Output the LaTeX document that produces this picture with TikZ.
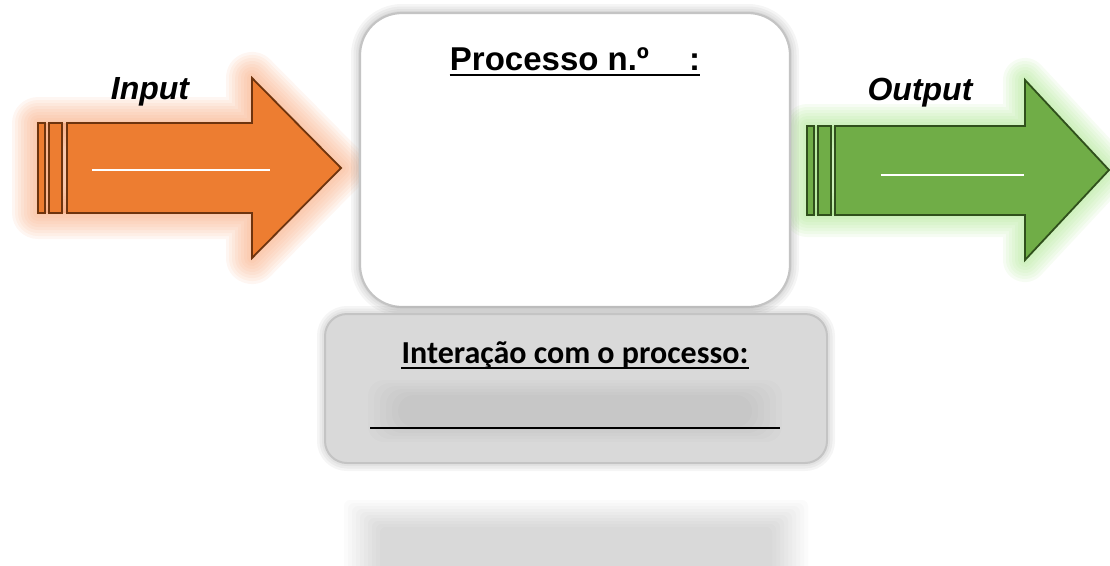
\documentclass[tikz,border=0pt]{standalone}
\usepackage{fontspec}
\setmainfont{Liberation Sans}
\newfontfamily\calibrifont{Carlito}
\usepackage{xcolor}
\usetikzlibrary{calc}

\definecolor{arrOrange}{HTML}{ED7D31}
\definecolor{arrOrangeDk}{HTML}{6E340E}
\definecolor{glowOrange}{HTML}{F7A070}
\definecolor{arrGreen}{HTML}{70AD47}
\definecolor{arrGreenDk}{HTML}{30501C}
\definecolor{glowGreen}{HTML}{9EE27C}
\definecolor{boxGray}{HTML}{D9D9D9}
\definecolor{rimGray}{HTML}{C4C4C4}

\begin{document}
\begin{tikzpicture}[x=1pt, y=-1pt,
    glow/.style={draw=#1, fill=#1, line width=\w pt, opacity=0.09, line join=round},
    arrowbody/.style={draw=#1, line width=1.8pt, line join=miter},
    lbl/.style={font=\bfseries\itshape\fontsize{32}{38}\selectfont, inner sep=0pt},
    ttl/.style={font=\bfseries\fontsize{33}{40}\selectfont, inner sep=0pt, anchor=base},
    ulin/.style={line width=2.8pt},
    procbox/.style={draw=rimGray, line width=2.2pt, fill=white, rounded corners=42pt,
                    minimum width=430pt, minimum height=294pt, inner sep=0pt},
    interbox/.style={draw=rimGray, line width=2pt, fill=boxGray, rounded corners=22pt,
                     minimum width=502pt, minimum height=149pt, inner sep=0pt}]
\useasboundingbox (0,0) rectangle (1110,565);

% glow round the input arrow
\foreach \w in {52,46,40,34,28,22,16,10,4}
    \draw[glow=glowOrange] (38,123) -- (252,123) -- (252,78) -- (341,168) -- (252,258) -- (252,213) -- (38,213) -- cycle;
% glow round the output arrow
\foreach \w in {44,38,32,26,20,14,8,3}
    \draw[glow=glowGreen] (807,126) -- (1025,126) -- (1025,80) -- (1109,170) -- (1025,260) -- (1025,215) -- (807,215) -- cycle;

% input arrow
\draw[arrowbody=arrOrangeDk, fill=arrOrange] (67,123) -- (252,123) -- (252,78) -- (341,168) -- (252,258) -- (252,213) -- (67,213) -- cycle;
\draw[arrowbody=arrOrangeDk, fill=arrOrange] (38,123) rectangle (45,213);
\draw[arrowbody=arrOrangeDk, fill=arrOrange] (49,123) rectangle (62,213);
\node[inner sep=0pt] (inblank) at (181,170) {\color{white}\rule{178pt}{2.6pt}};
\node[lbl] (inlbl) at (150,92) {Input};

% output arrow
\draw[arrowbody=arrGreenDk, fill=arrGreen] (835,126) -- (1025,126) -- (1025,80) -- (1109,170) -- (1025,260) -- (1025,215) -- (835,215) -- cycle;
\draw[arrowbody=arrGreenDk, fill=arrGreen] (807,126) rectangle (814,215);
\draw[arrowbody=arrGreenDk, fill=arrGreen] (818,126) rectangle (831,215);
\node[inner sep=0pt] (outblank) at (952,175) {\color{white}\rule{143pt}{2.6pt}};
\node[lbl] (outlbl) at (920,93) {Output};

% soft shadow of the process box
\foreach \w in {18,13,8,4}
    \draw[draw=black, line width=\w pt, opacity=0.04, rounded corners=42pt] (360,13) rectangle (790,307);
\node[procbox] (proc) at (575,160) {};
\node[ttl] (ptitle) at (575,70) {Processo n.º\hspace{40pt}:};
\draw[ulin] ([yshift=-5pt]ptitle.base west) -- ([yshift=-5pt]ptitle.base east);

% interaction box
\foreach \w in {16,11,6}
    \draw[draw=black, line width=\w pt, opacity=0.04, rounded corners=22pt] (325,314) rectangle (827,463);
\node[interbox] (inter) at (576,388.5) {};
\foreach \i in {0,...,5}
    \fill[black, opacity=0.01, rounded corners=16pt] (368+\i*6,380+\i*3) rectangle (782-\i*6,442-\i*3);
\node[font=\calibrifont\bfseries\fontsize{32}{38}\selectfont, inner sep=0pt, anchor=base] (itxt) at (575,363) {Interação com o processo:};
\draw[ulin] ([yshift=-5pt]itxt.base west) -- ([yshift=-5pt]itxt.base east);
\node[inner sep=0pt] (iblank) at (575,428) {\rule{410pt}{1.6pt}};

% blurred reflection underneath
\foreach \i in {0,...,9}
    \fill[black, opacity=0.016, rounded corners=6pt] (344+\i*4,500+\i*3) rectangle (808-\i*4,575);
\end{tikzpicture}
\end{document}
